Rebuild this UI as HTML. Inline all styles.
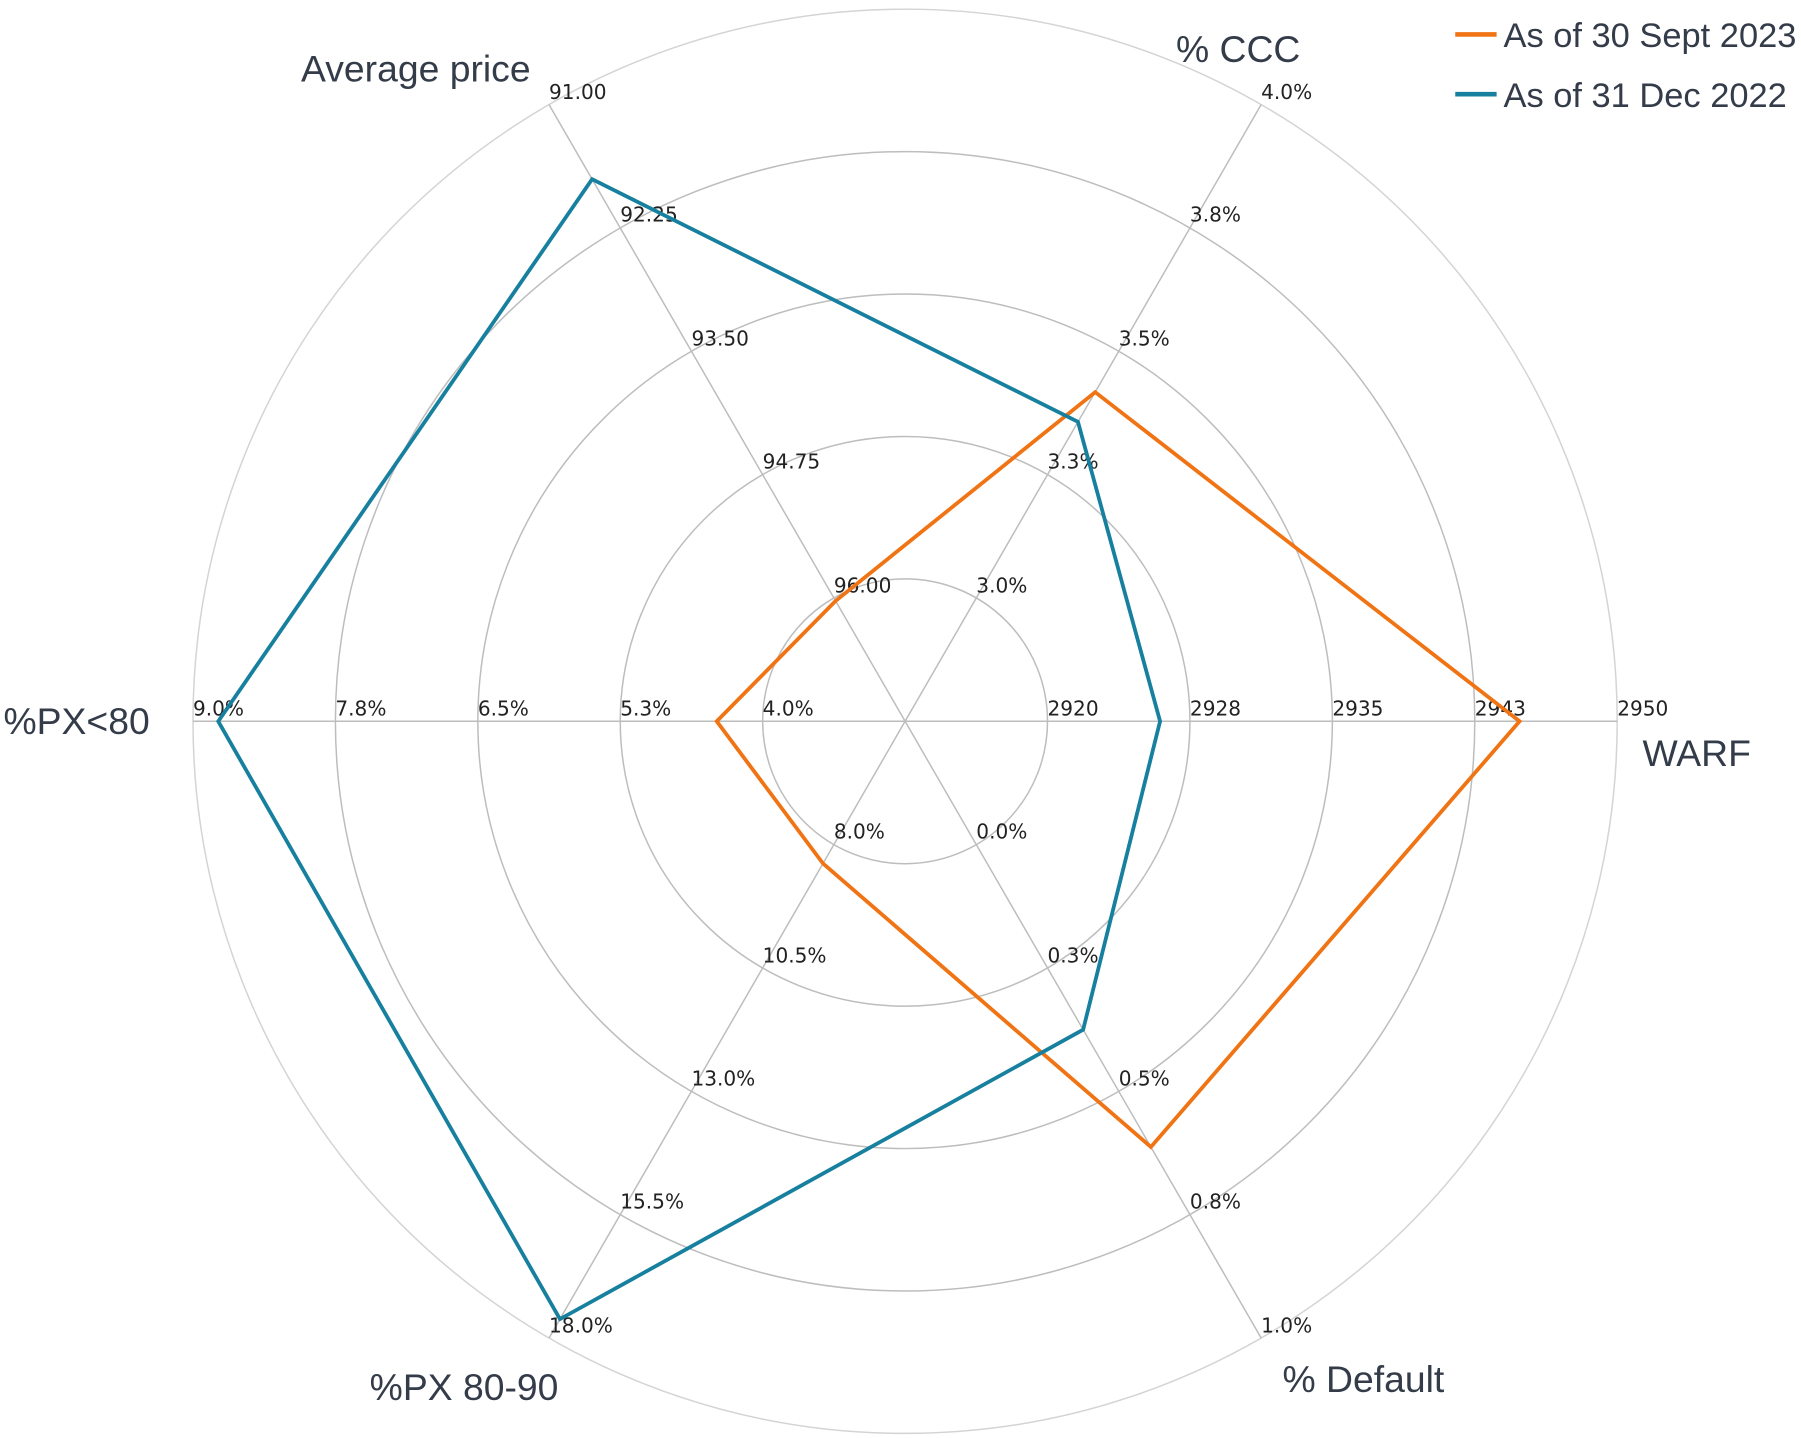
<!DOCTYPE html>
<html><head><meta charset="utf-8"><style>html,body{margin:0;padding:0;background:#fff}svg{display:block}</style></head><body>
<svg width="1801" height="1438" viewBox="0 0 1568 1252" xmlns="http://www.w3.org/2000/svg">
<g fill="none" stroke="#bdbdbd" stroke-width="1.3">
<circle cx="788" cy="628" r="124"/><circle cx="788" cy="628" r="248"/><circle cx="788" cy="628" r="372"/><circle cx="788" cy="628" r="496"/>
<circle cx="788" cy="628" r="620" stroke="#d4d4d4"/>
<line x1="788" y1="628" x2="1408" y2="628"/><line x1="788" y1="628" x2="168" y2="628"/>
<line x1="788" y1="628" x2="1098" y2="91.1"/><line x1="788" y1="628" x2="478" y2="91.1"/>
<line x1="788" y1="628" x2="478" y2="1164.9"/><line x1="788" y1="628" x2="1098" y2="1164.9"/>
</g>
<g font-family="DejaVu Sans, sans-serif" font-size="17.5" fill="#222">
<text x="912" y="623">2920</text><text x="1036" y="623">2928</text><text x="1160" y="623">2935</text><text x="1284" y="623">2943</text><text x="1408" y="623">2950</text>
<text x="850" y="516">3.0%</text><text x="912" y="408">3.3%</text><text x="974" y="301">3.5%</text><text x="1036" y="193">3.8%</text><text x="1098" y="86">4.0%</text>
<text x="726" y="516">96.00</text><text x="664" y="408">94.75</text><text x="602" y="301">93.50</text><text x="540" y="193">92.25</text><text x="478" y="86">91.00</text>
<text x="664" y="623">4.0%</text><text x="540" y="623">5.3%</text><text x="416" y="623">6.5%</text><text x="292" y="623">7.8%</text><text x="168" y="623">9.0%</text>
<text x="726" y="730">8.0%</text><text x="664" y="838">10.5%</text><text x="602" y="945">13.0%</text><text x="540" y="1052">15.5%</text><text x="478" y="1160">18.0%</text>
<text x="850" y="730">0.0%</text><text x="912" y="838">0.3%</text><text x="974" y="945">0.5%</text><text x="1036" y="1052">0.8%</text><text x="1098" y="1160">1.0%</text>
</g>
<polygon points="1323,628 953.5,341.4 727.5,523.2 624,628 716.5,751.8 1002,998.6" fill="none" stroke="#f07314" stroke-width="3.3" stroke-linejoin="miter"/>
<polygon points="1010,628 938.5,367.3 515.5,156 190,628 487.5,1148.5 943,896.5" fill="none" stroke="#17809f" stroke-width="3.3" stroke-linejoin="miter"/>
<g font-family="Liberation Sans, Arial, sans-serif" font-size="32.5" fill="#343c4a">
<text x="1430" y="667">WARF</text>
<text x="1078" y="54" text-anchor="middle">% CCC</text>
<text x="362" y="71" text-anchor="middle">Average price</text>
<text x="3" y="639">%PX&lt;80</text>
<text x="404" y="1219" text-anchor="middle">%PX 80-90</text>
<text x="1187" y="1212" text-anchor="middle">% Default</text>
</g>
<g font-family="Liberation Sans, Arial, sans-serif" font-size="30" fill="#343c4a">
<line x1="1267" y1="30" x2="1303" y2="30" stroke="#f07314" stroke-width="4"/>
<line x1="1267" y1="82" x2="1303" y2="82" stroke="#17809f" stroke-width="4"/>
<text x="1309" y="41">As of 30 Sept 2023</text>
<text x="1309" y="93">As of 31 Dec 2022</text>
</g>
</svg>
</body></html>
